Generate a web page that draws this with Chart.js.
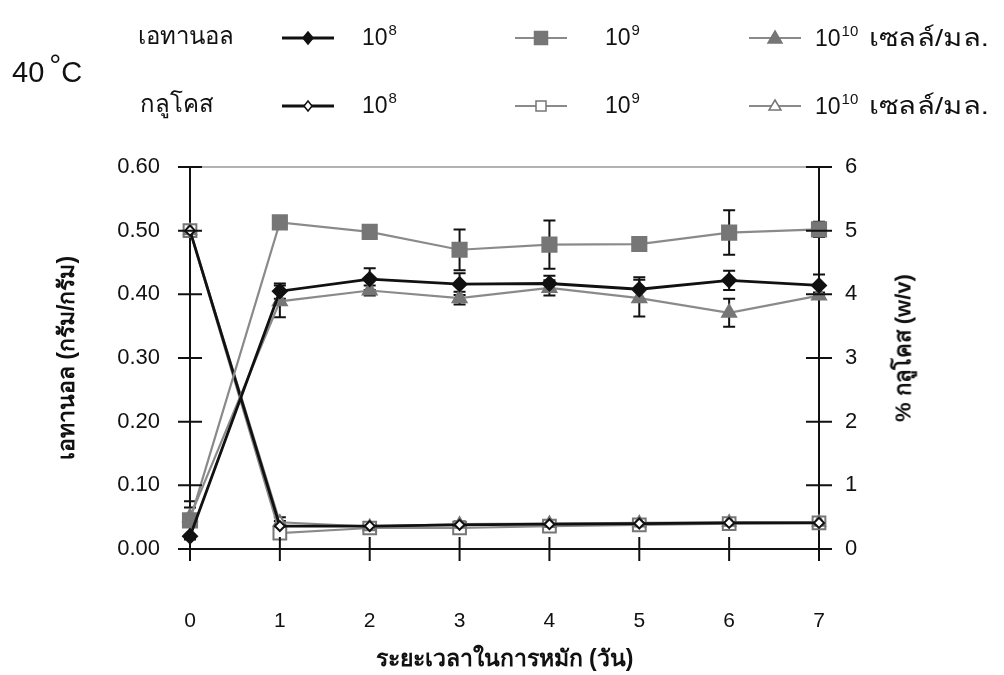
<!DOCTYPE html>
<html lang="th">
<head>
<meta charset="utf-8">
<title>เอทานอลและกลูโคส 40 °C</title>
<script src="https://cdn.jsdelivr.net/npm/chart.js@4.4.1/dist/chart.umd.min.js"></script>
<style>
  html, body { margin: 0; padding: 0; background: #fff; }
  #wrap { position: relative; width: 1004px; height: 675px; overflow: hidden;
          font-family: "Liberation Sans", Arial, sans-serif; color: #111; }
  #chart { position: absolute; left: 0; top: 0; }
  .lg { position: absolute; white-space: nowrap; line-height: 1; }
  .lbl { font-size: 24px; }
  .unit { display: inline-block; font-size: 24px; transform: scaleX(1.22); transform-origin: left center; margin-left: 4px; }
  .num { font-size: 23px; }
  .num sup { font-size: 15px; position: relative; top: -10px; vertical-align: baseline; margin-left: 1px; }
  .temp { font-size: 29px; }
  .temp .deg { font-size: 30px; position: relative; top: -7px; margin: 0 0 0 5px; }
  .key { position: absolute; }
  #ytitle2 { position: absolute; left: 903px; top: 348px; transform: translate(-50%, -50%) rotate(-90deg);
             font-size: 22px; font-weight: bold; white-space: nowrap; color: #111; }
</style>
</head>
<body>
<div id="wrap">
  <canvas id="chart" width="1004" height="675"></canvas>

  <div class="lg temp" style="left:12px; top:57px;">40<span class="deg">°</span>C</div>

  <div class="lg lbl" style="left:138px; top:24px;">เอทานอล</div>
  <svg class="key" id="k-e8"  style="left:282px; top:28px;" width="52" height="20"></svg>
  <div class="lg num" style="left:362px; top:26px;">10<sup>8</sup></div>
  <svg class="key" id="k-e9"  style="left:515px; top:28px;" width="52" height="20"></svg>
  <div class="lg num" style="left:605px; top:26px;">10<sup>9</sup></div>
  <svg class="key" id="k-e10" style="left:749px; top:28px;" width="52" height="20"></svg>
  <div class="lg num" style="left:815px; top:26px;">10<sup>10</sup> <span class="unit">เซลล์/มล.</span></div>

  <div class="lg lbl" style="left:140px; top:92px;">กลูโคส</div>
  <svg class="key" id="k-g8"  style="left:282px; top:96px;" width="52" height="20"></svg>
  <div class="lg num" style="left:362px; top:94px;">10<sup>8</sup></div>
  <svg class="key" id="k-g9"  style="left:515px; top:96px;" width="52" height="20"></svg>
  <div class="lg num" style="left:605px; top:94px;">10<sup>9</sup></div>
  <svg class="key" id="k-g10" style="left:749px; top:96px;" width="52" height="20"></svg>
  <div class="lg num" style="left:815px; top:94px;">10<sup>10</sup> <span class="unit">เซลล์/มล.</span></div>

  <div id="ytitle2">% กลูโคส (w/v)</div>
</div>

<script>
// Fermentation time (days)
const days = ['0', '1', '2', '3', '4', '5', '6', '7'];

// Ethanol yield (g/g) by inoculum size, with standard deviations
const ethanol8     = [0.020, 0.405, 0.424, 0.416, 0.417, 0.408, 0.422, 0.414];
const ethanol8Err  = [0.020, 0.012, 0.017, 0.017, 0.012, 0.019, 0.015, 0.017];
const ethanol9     = [0.045, 0.513, 0.498, 0.470, 0.478, 0.479, 0.497, 0.502];
const ethanol9Err  = [0.030, 0.008, 0.005, 0.032, 0.038, 0.004, 0.035, 0.012];
const ethanol10    = [0.050, 0.389, 0.406, 0.394, 0.410, 0.394, 0.371, 0.398];
const ethanol10Err = [0.015, 0.025, 0.008, 0.010, 0.012, 0.029, 0.022, 0.005];

// Residual glucose (% w/v) by inoculum size, with standard deviations
const glucose8     = [5.00, 0.36, 0.36, 0.38, 0.39, 0.40, 0.41, 0.41];
const glucose8Err  = [0.05, 0.08, 0.03, 0.04, 0.04, 0.04, 0.04, 0.04];
const glucose9     = [5.00, 0.25, 0.33, 0.33, 0.36, 0.38, 0.40, 0.41];
const glucose9Err  = [0.05, 0.06, 0.03, 0.04, 0.04, 0.04, 0.04, 0.04];
const glucose10    = [5.00, 0.42, 0.35, 0.39, 0.40, 0.41, 0.42, 0.42];
const glucose10Err = [0.05, 0.08, 0.03, 0.04, 0.04, 0.04, 0.04, 0.04];

// Axis ticks
const ethanolTicks = [0, 0.1, 0.2, 0.3, 0.4, 0.5, 0.6];
const glucoseTicks = [0, 1, 2, 3, 4, 5, 6];

const INK = '#111111';
const GREY_LINE = '#8a8a8a';
const GREY_FILL = '#767676';
const FONT = '"Liberation Sans", Arial, sans-serif';

const styles = {
  e8:  { line: INK,       width: 2.8, shape: 'rectRot',  r: 7,  fill: INK,       edge: INK },
  e9:  { line: GREY_LINE, width: 2.2, shape: 'rect',     r: 10, fill: GREY_FILL, edge: GREY_FILL },
  e10: { line: GREY_LINE, width: 2.2, shape: 'triangle', r: 8,  fill: GREY_FILL, edge: GREY_FILL },
  g8:  { line: INK,       width: 2.8, shape: 'rectRot',  r: 5,  fill: '#ffffff', edge: INK },
  g9:  { line: GREY_LINE, width: 2.2, shape: 'rect',     r: 9,  fill: '#ffffff', edge: GREY_FILL },
  g10: { line: GREY_LINE, width: 2.2, shape: 'triangle', r: 7,  fill: '#ffffff', edge: GREY_FILL }
};

function series(label, data, err, axis, st) {
  return {
    label, data, errorBars: err, yAxisID: axis,
    borderColor: st.line, borderWidth: st.width, tension: 0, fill: false,
    pointStyle: st.shape, pointRadius: st.r, pointHoverRadius: st.r,
    pointBackgroundColor: st.fill, pointBorderColor: st.edge, pointBorderWidth: 2
  };
}

// Legend keys: a short line with the series marker
function drawKey(id, st) {
  const svg = document.getElementById(id);
  const ns = 'http://www.w3.org/2000/svg';
  const ln = document.createElementNS(ns, 'line');
  ln.setAttribute('x1', 0); ln.setAttribute('x2', 52);
  ln.setAttribute('y1', 10); ln.setAttribute('y2', 10);
  ln.setAttribute('stroke', st.line); ln.setAttribute('stroke-width', st.width);
  svg.appendChild(ln);
  let m;
  if (st.shape === 'rect') {
    m = document.createElementNS(ns, 'rect');
    const s = st.fill === '#ffffff' ? 10 : 13;
    m.setAttribute('x', 26 - s / 2); m.setAttribute('y', 10 - s / 2);
    m.setAttribute('width', s); m.setAttribute('height', s);
  } else if (st.shape === 'rectRot') {
    m = document.createElementNS(ns, 'polygon');
    const h = st.fill === '#ffffff' ? 5 : 6;
    m.setAttribute('points', `26,${10 - h} ${26 + h - 1},10 26,${10 + h} ${26 - h + 1},10`);
  } else {
    m = document.createElementNS(ns, 'polygon');
    m.setAttribute('points', st.fill === '#ffffff' ? '26,4 32,14 20,14' : '26,3 33,15 19,15');
  }
  m.setAttribute('fill', st.fill);
  m.setAttribute('stroke', st.edge);
  m.setAttribute('stroke-width', 1.5);
  svg.appendChild(m);
}
drawKey('k-e8', styles.e8);  drawKey('k-e9', styles.e9);  drawKey('k-e10', styles.e10);
drawKey('k-g8', styles.g8);  drawKey('k-g9', styles.g9);  drawKey('k-g10', styles.g10);

// Vertical error bars with caps, placed through each dataset's own y scale
const errorBarPlugin = {
  id: 'errorBars',
  beforeDatasetsDraw(chart) {
    const ctx = chart.ctx;
    ctx.save();
    ctx.strokeStyle = INK;
    ctx.lineWidth = 2;
    chart.data.datasets.forEach((ds, di) => {
      if (!ds.errorBars) return;
      const meta = chart.getDatasetMeta(di);
      const ys = chart.scales[ds.yAxisID];
      meta.data.forEach((pt, i) => {
        const v = ds.data[i], e = ds.errorBars[i];
        if (v == null || !e) return;
        const top = ys.getPixelForValue(v + e);
        const bot = ys.getPixelForValue(Math.max(0, v - e));
        ctx.beginPath();
        ctx.moveTo(pt.x, top); ctx.lineTo(pt.x, bot);
        ctx.moveTo(pt.x - 6, top); ctx.lineTo(pt.x + 6, top);
        ctx.moveTo(pt.x - 6, bot); ctx.lineTo(pt.x + 6, bot);
        ctx.stroke();
      });
    });
    ctx.restore();
  }
};

// Tick marks that cross the axis lines, plus the thin frame line along the top
const crossTickPlugin = {
  id: 'crossTicks',
  afterDraw(chart) {
    const { ctx, chartArea } = chart;
    const { x, yE, yG } = chart.scales;
    ctx.save();
    ctx.strokeStyle = '#999999';
    ctx.lineWidth = 1.5;
    ctx.beginPath();
    ctx.moveTo(chartArea.left, chartArea.top);
    ctx.lineTo(chartArea.right, chartArea.top);
    ctx.stroke();

    ctx.strokeStyle = INK;
    ctx.lineWidth = 2;
    ctx.beginPath();
    yE.ticks.forEach(t => {
      const py = yE.getPixelForValue(t.value);
      ctx.moveTo(yE.right - 12, py); ctx.lineTo(yE.right + 12, py);
    });
    yG.ticks.forEach(t => {
      const py = yG.getPixelForValue(t.value);
      ctx.moveTo(yG.left - 13, py); ctx.lineTo(yG.left + 13, py);
    });
    x.ticks.forEach((t, i) => {
      const px = x.getPixelForTick(i);
      ctx.moveTo(px, x.top - 12); ctx.lineTo(px, x.top + 12);
    });
    ctx.stroke();
    ctx.restore();
  }
};

new Chart(document.getElementById('chart'), {
  type: 'line',
  data: {
    labels: days,
    datasets: [
      series('เอทานอล 10^8',  ethanol8,  ethanol8Err,  'yE', styles.e8),
      series('เอทานอล 10^9',  ethanol9,  ethanol9Err,  'yE', styles.e9),
      series('เอทานอล 10^10', ethanol10, ethanol10Err, 'yE', styles.e10),
      series('กลูโคส 10^8',   glucose8,  glucose8Err,  'yG', styles.g8),
      series('กลูโคส 10^10',  glucose10, glucose10Err, 'yG', styles.g10),
      series('กลูโคส 10^9',   glucose9,  glucose9Err,  'yG', styles.g9)
    ]
  },
  options: {
    responsive: false,
    animation: false,
    devicePixelRatio: 1,
    layout: { padding: { top: 167, left: 0, right: 0, bottom: 0 } },
    plugins: { legend: { display: false }, tooltip: { enabled: false } },
    scales: {
      x: {
        offset: false,
        grid: { display: false, drawTicks: false },
        border: { display: true, color: INK, width: 2 },
        ticks: { color: INK, padding: 60, maxRotation: 0, font: { family: FONT, size: 21 } },
        title: {
          display: true, text: 'ระยะเวลาในการหมัก (วัน)', color: INK,
          font: { family: FONT, size: 23, weight: 'bold' }, padding: { top: 0, bottom: 2 }
        },
        afterFit(s) { s.height = 126; }
      },
      yE: {
        position: 'left', min: 0, max: 0.6,
        afterBuildTicks(s) { s.ticks = ethanolTicks.map(v => ({ value: v })); },
        grid: { display: false, drawTicks: false },
        border: { display: true, color: INK, width: 2 },
        ticks: { color: INK, padding: 30, font: { family: FONT, size: 22 },
                 callback: v => Number(v).toFixed(2) },
        title: {
          display: true, text: 'เอทานอล (กรัม/กรัม)', color: INK,
          font: { family: FONT, size: 23, weight: 'bold' }, padding: { top: 54, bottom: 0 }
        },
        afterFit(s) { s.width = 190; }
      },
      yG: {
        position: 'right', min: 0, max: 6,
        afterBuildTicks(s) { s.ticks = glucoseTicks.map(v => ({ value: v })); },
        grid: { display: false, drawTicks: false },
        border: { display: true, color: INK, width: 2 },
        ticks: { color: INK, padding: 26, font: { family: FONT, size: 22 } },
        afterFit(s) { s.width = 185; }
      }
    }
  },
  plugins: [errorBarPlugin, crossTickPlugin]
});
</script>
</body>
</html>
